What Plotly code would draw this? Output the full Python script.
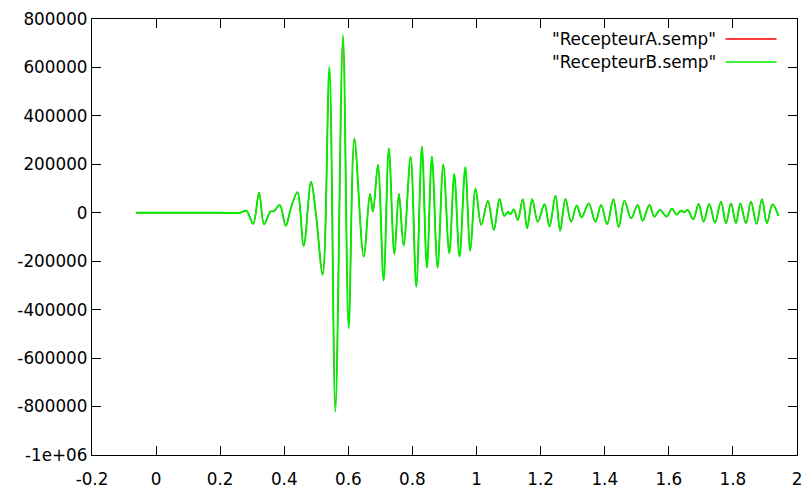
import plotly.graph_objects as go

# Time samples (s) of the extrema
t = [-0.063, 0.0, 0.1, 0.2, 0.261, 0.282, 0.3027, 0.3214, 0.337, 0.357, 0.368, 0.386, 0.4046,
     0.420, 0.441, 0.4607, 0.4835, 0.498, 0.520, 0.5408, 0.5595, 0.5832, 0.601,
     0.6188, 0.6478, 0.6674, 0.6767, 0.6923, 0.710, 0.7263, 0.7435, 0.7578, 0.7725,
     0.7943, 0.812, 0.8295, 0.845, 0.8607, 0.8784, 0.8962, 0.9149, 0.9305, 0.947,
     0.9648, 0.9804, 0.9969, 1.0147, 1.0352, 1.054, 1.0717, 1.0863, 1.0976, 1.106,
     1.1163, 1.1287, 1.1443, 1.158, 1.1736, 1.1911, 1.212, 1.2276, 1.2463, 1.2609,
     1.2774, 1.2952, 1.3126, 1.3282, 1.350, 1.371, 1.3887, 1.4074, 1.427, 1.4436,
     1.4613, 1.4822, 1.5028, 1.5184, 1.5393, 1.5549, 1.5726, 1.5932, 1.610, 1.6244,
     1.638, 1.6484, 1.6587, 1.6764, 1.693, 1.7086, 1.7263, 1.744, 1.7628, 1.7784,
     1.794, 1.8095, 1.823, 1.8407, 1.8563, 1.8738, 1.8906, 1.9062, 1.9236, 1.9423]

recepteur_b = [0, 0, 0, 0, 0, 8000, -46000, 83000, -47000, 5000, 7000, 32000, -54000,
               16000, 85000, -137000, 128000, 5000, -257000, 603000, -821000, 734000, -477000,
               307000, -181000, 78000, 5000, 197000, -280000, 266000, -171000, 78000, -136000,
               232000, -305000, 273000, -227000, 232000, -227000, 200000, -167000, 160000, -181000,
               188000, -156000, 99000, -50000, 49000, -71000, 57000, -13000, 3000, -6000,
               14000, -30000, 56000, -64000, 56000, -37000, 35000, -57000, 71000, -74000,
               57000, -37000, 30000, -19000, 39000, -37000, 32000, -47000, 56000, -60000,
               50000, -23000, 32000, -33000, 32000, -16000, 12000, -16000, 17000, -8000,
               9000, 2000, 12000, -27000, 36000, -37000, 36000, -41000, 46000, -43000,
               39000, -43000, 39000, -43000, 46000, -46000, 56000, -43000, 35000, -13000]

recepteur_a = [0, 0, 0, 0, 0, 8000, -46000, 83000, -47000, 5000, 7000, 32000, -54000,
               16000, 85000, -137000, 128000, 5000, -250000, 590000, -800000, 720000, -470000,
               300000, -181000, 78000, 5000, 197000, -280000, 266000, -171000, 78000, -136000,
               232000, -305000, 273000, -227000, 232000, -227000, 200000, -167000, 160000, -181000,
               188000, -156000, 99000, -50000, 49000, -71000, 57000, -13000, 3000, -6000,
               14000, -30000, 56000, -64000, 56000, -37000, 35000, -57000, 71000, -74000,
               57000, -37000, 30000, -19000, 39000, -37000, 32000, -47000, 56000, -60000,
               50000, -23000, 32000, -33000, 32000, -16000, 12000, -16000, 17000, -8000,
               9000, 2000, 12000, -27000, 36000, -37000, 36000, -41000, 46000, -43000,
               39000, -43000, 39000, -43000, 46000, -46000, 56000, -43000, 35000, -13000]

series_names = ['"RecepteurA.semp"', '"RecepteurB.semp"']
series_colors = ["#ff0000", "#00ee00"]
series_widths = [1.2, 1.9]

x_ticks = [-0.2, 0, 0.2, 0.4, 0.6, 0.8, 1, 1.2, 1.4, 1.6, 1.8, 2]
x_ticklabels = ["-0.2", "0", "0.2", "0.4", "0.6", "0.8", "1", "1.2", "1.4", "1.6", "1.8", "2"]
y_ticks = [800000, 600000, 400000, 200000, 0, -200000, -400000, -600000, -800000, -1000000]
y_ticklabels = ["800000", "600000", "400000", "200000", "0", "-200000", "-400000",
                "-600000", "-800000", "-1e+06"]

FONT = "DejaVu Sans"
fig = go.Figure()
for vals, name, col, wd in zip([recepteur_a, recepteur_b], series_names, series_colors, series_widths):
    fig.add_trace(go.Scatter(x=t, y=vals, mode="lines", name=name,
                             line=dict(color=col, width=wd, shape="spline", smoothing=1.0),
                             hoverinfo="skip", showlegend=False))

W, H = 804, 489
L, R, T, B = 92, 6.5, 19, 34
pw, ph = W - L - R, H - T - B


def px_x(p):
    return (p - L) / pw


def px_y(p):
    return 1 - (p - T) / ph


# gnuplot-style key: text right-aligned, sample line to the right
for i, (name, col) in enumerate(zip(series_names, series_colors)):
    yk = 39 + 23 * i
    fig.add_annotation(x=px_x(718), y=px_y(yk), xref="paper", yref="paper", text=name,
                       showarrow=False, xanchor="right", yanchor="middle",
                       font=dict(family=FONT, size=16.8, color="black"))
    fig.add_shape(type="line", x0=px_x(726), x1=px_x(777), y0=px_y(yk), y1=px_y(yk),
                  xref="paper", yref="paper", line=dict(color=col, width=1.6))

axis_common = dict(showline=True, linecolor="black", linewidth=1.3, mirror="ticks",
                   ticks="inside", ticklen=9, tickwidth=1.3, tickcolor="black",
                   showgrid=False, zeroline=False, automargin=False,
                   tickfont=dict(family=FONT, size=16.8, color="black"))
fig.update_layout(
    width=W, height=H, margin=dict(l=L, r=R, t=T, b=B, pad=0),
    paper_bgcolor="white", plot_bgcolor="white",
    xaxis=dict(range=[-0.2, 2], tickvals=x_ticks, ticktext=x_ticklabels,
               ticklabelstandoff=9, **axis_common),
    yaxis=dict(range=[-1000000, 800000], tickvals=y_ticks, ticktext=y_ticklabels, **axis_common),
    showlegend=False,
)
fig.write_html("out.html", config={"displayModeBar": False},
               post_script="document.body.style.margin='0';document.body.style.overflow='hidden';")
